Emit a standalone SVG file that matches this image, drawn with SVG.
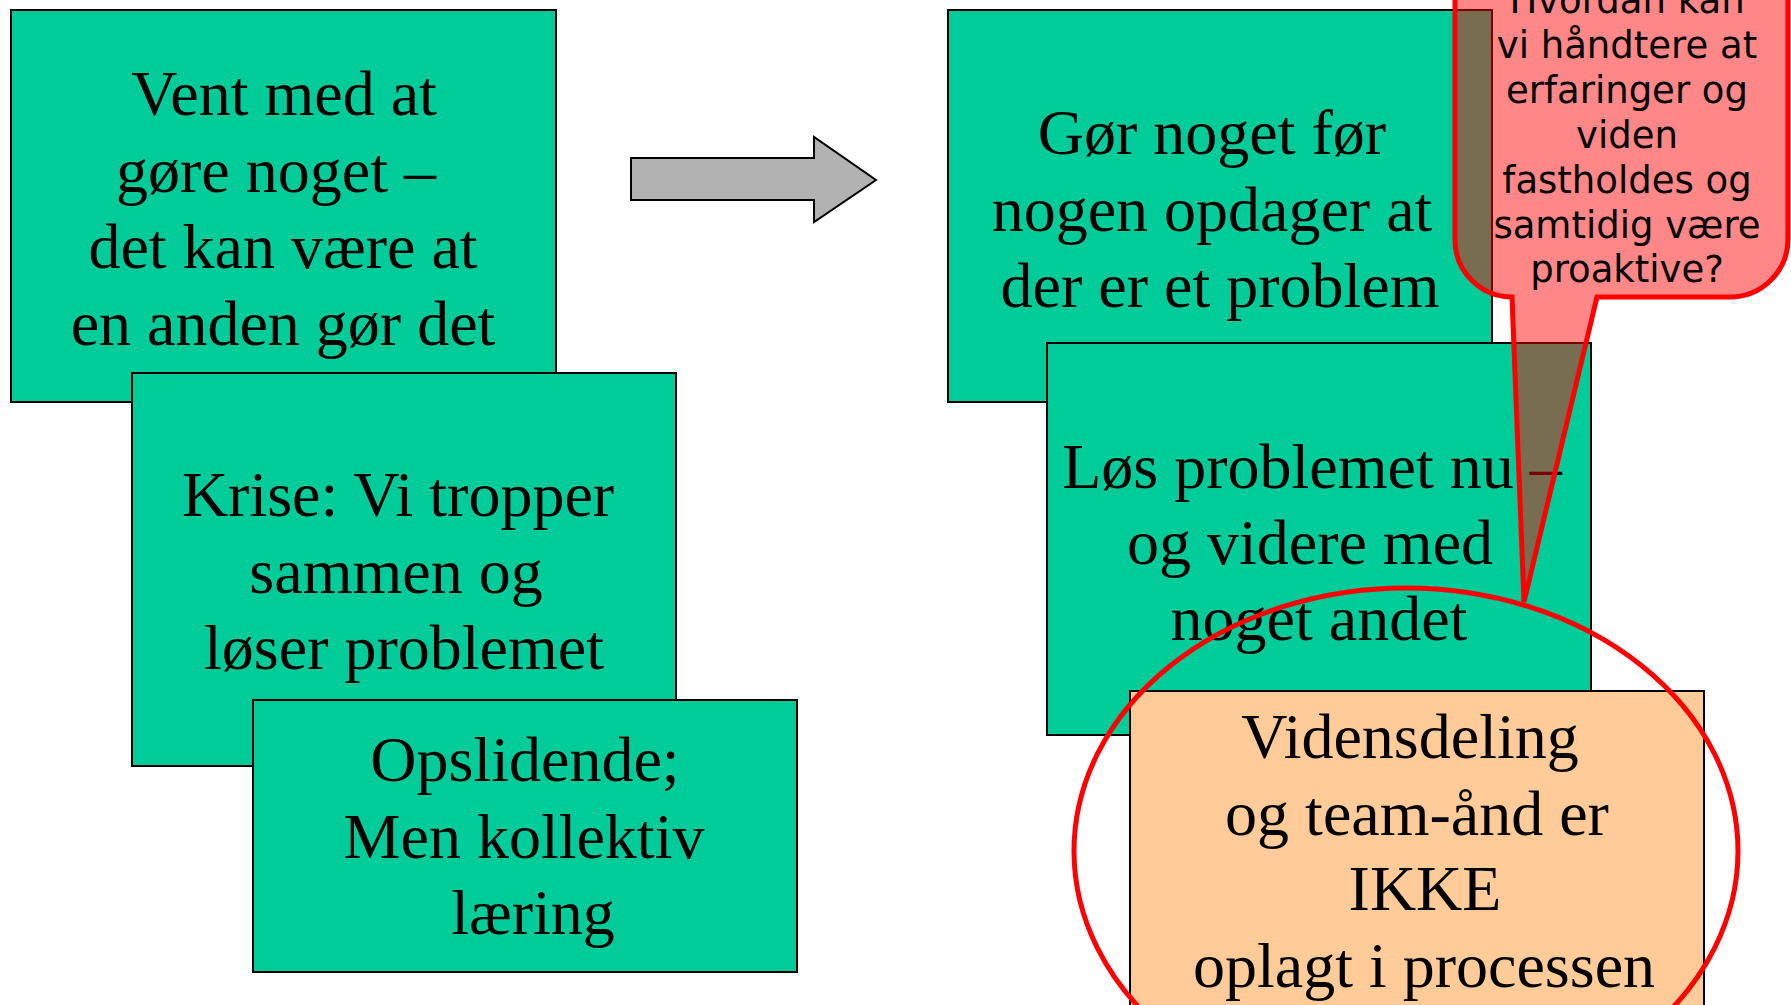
<svg xmlns="http://www.w3.org/2000/svg" width="1791" height="1005" viewBox="0 0 1791 1005">
<style>
.box{fill:#00CC99;stroke:#000;stroke-width:2}
.orange{fill:#FFCC99;stroke:#000;stroke-width:2}
.t{font-family:"Liberation Serif","Times New Roman",serif;font-size:64px;fill:#000;text-anchor:middle}
.c{font-family:"DejaVu Sans",sans-serif;font-size:37px;fill:#000;text-anchor:middle}
</style>
<rect width="1791" height="1005" fill="#fff"/>
<g id="box1">
<rect class="box" x="11" y="10" width="545" height="392"/>
<text class="t"><tspan x="284" y="115">Vent med at</tspan><tspan x="276" y="192">gøre noget –</tspan><tspan x="283" y="268">det kan være at</tspan><tspan x="283" y="345">en anden gør det</tspan></text>
</g>
<g id="box2">
<rect class="box" x="132" y="373" width="544" height="393"/>
<text class="t"><tspan x="398" y="516">Krise: Vi tropper</tspan><tspan x="396" y="593">sammen og</tspan><tspan x="404" y="669">løser problemet</tspan></text>
</g>
<g id="box3">
<rect class="box" x="253" y="700" width="544" height="272"/>
<text class="t"><tspan x="525" y="781">Opslidende;</tspan><tspan x="524" y="858">Men kollektiv</tspan><tspan x="533" y="934">læring</tspan></text>
</g>
<g id="connectors">
<path d="M631,158 L814,158 L814,137 L876,180 L814,222 L814,200 L631,200 Z" fill="#B2B2B2" stroke="#000" stroke-width="2" stroke-linejoin="miter"/>
</g>
<g id="box4">
<rect class="box" x="948" y="10" width="544" height="392"/>
<text class="t"><tspan x="1212" y="154">Gør noget før</tspan><tspan x="1212" y="231">nogen opdager at</tspan><tspan x="1220" y="307">der er et problem</tspan></text>
</g>
<g id="box5">
<rect class="box" x="1047" y="343" width="544" height="392"/>
<text class="t"><tspan x="1312" y="488">Løs problemet nu –</tspan><tspan x="1310" y="564">og videre med</tspan><tspan x="1319" y="640">noget andet</tspan></text>
</g>
<g id="box6">
<rect class="orange" x="1130" y="691" width="574" height="340"/>
<text class="t"><tspan x="1410" y="758">Vidensdeling</tspan><tspan x="1417" y="835">og team-ånd er</tspan><tspan x="1425" y="910">IKKE</tspan><tspan x="1424" y="987">oplagt i processen</tspan></text>
</g>
<g id="callout">
<path d="M1455,-80 L1455,240 A57,57 0 0 0 1512,297 L1524,602 L1597,297 L1730,297 A58,58 0 0 0 1788,239 L1788,-80 Z" fill="#FF0000" fill-opacity="0.47" stroke="#FF0000" stroke-width="5" stroke-linejoin="miter"/>
<text class="c"><tspan x="1627" y="13">Hvordan kan</tspan><tspan x="1627" y="58">vi håndtere at</tspan><tspan x="1627" y="103">erfaringer og</tspan><tspan x="1627" y="148">viden</tspan><tspan x="1627" y="193">fastholdes og</tspan><tspan x="1627" y="238">samtidig være</tspan><tspan x="1627" y="282">proaktive?</tspan></text>
</g>
<g id="highlight">
<ellipse cx="1406" cy="851" rx="332" ry="263" fill="none" stroke="#FF0000" stroke-width="5"/>
</g>
</svg>
